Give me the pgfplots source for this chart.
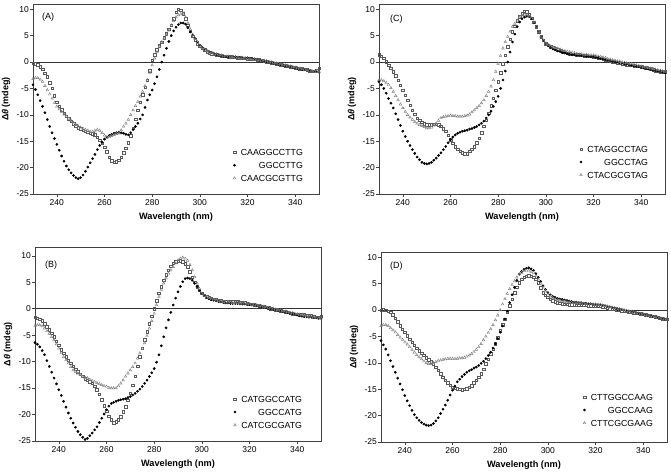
\documentclass[border=0pt]{standalone}
\usepackage{fontspec}
\setmainfont{Liberation Sans}
\usepackage{pgfplots}
\usepackage{pgfplotstable}
\pgfplotsset{compat=1.18}

\pgfplotstableread{
x sq ci tr
230 -0.2 -4.3 -3.2
231 -0.3 -5.2 -3.0
232 -0.5 -6.2 -3.0
233 -0.9 -7.3 -3.3
234 -1.4 -8.4 -3.7
235 -2.1 -9.6 -4.5
236 -2.8 -10.9 -5.3
237 -3.9 -12.2 -6.1
238 -5.0 -13.4 -6.9
239 -6.4 -14.5 -7.7
240 -7.6 -15.6 -8.4
241 -8.4 -16.7 -8.9
242 -9.0 -17.8 -9.4
243 -9.7 -18.8 -9.9
244 -10.3 -19.7 -10.3
245 -10.7 -20.4 -10.7
246 -11.2 -21.0 -11.1
247 -11.7 -21.5 -11.5
248 -12.1 -21.9 -11.9
249 -12.4 -22.1 -12.2
250 -12.6 -21.9 -12.4
251 -12.9 -21.4 -12.6
252 -13.1 -20.7 -12.8
253 -13.3 -19.9 -13.0
254 -13.5 -19.1 -13.2
255 -13.6 -18.3 -13.2
256 -13.8 -17.5 -13.0
257 -14.2 -16.6 -12.8
258 -14.8 -15.8 -13.0
259 -15.4 -15.2 -13.4
260 -16.1 -14.6 -13.9
261 -17.0 -14.2 -14.3
262 -18.0 -13.9 -14.2
263 -18.7 -13.7 -14.0
264 -19.0 -13.5 -13.8
265 -18.9 -13.4 -13.6
266 -18.6 -13.3 -13.5
267 -18.0 -13.4 -12.9
268 -17.2 -13.5 -12.2
269 -16.3 -13.7 -11.6
270 -15.3 -13.8 -10.9
271 -14.0 -13.4 -10.0
272 -12.5 -12.8 -9.1
273 -10.8 -12.2 -8.3
274 -9.1 -11.6 -7.5
275 -7.6 -10.8 -6.5
276 -6.2 -10.0 -5.6
277 -4.8 -8.6 -4.5
278 -3.4 -7.2 -3.4
279 -1.6 -6.2 -2.0
280 0.3 -5.3 -0.6
281 1.4 -4.1 0.7
282 2.3 -2.8 1.9
283 3.1 -1.4 2.9
284 3.8 0.0 3.8
285 4.6 1.3 4.5
286 5.4 2.6 5.1
287 6.2 3.9 6.0
288 7.0 5.0 7.0
289 8.2 5.9 7.8
290 9.4 6.6 8.5
291 10.0 7.1 8.9
292 9.8 7.4 9.1
293 9.2 7.4 9.1
294 8.2 7.2 8.5
295 7.0 6.5 7.4
296 5.8 5.7 6.2
297 4.9 5.1 5.2
298 4.2 4.5 4.4
299 3.5 3.8 3.7
300 3.0 3.2 3.1
301 2.6 2.8 2.7
302 2.3 2.4 2.4
303 2.0 2.1 2.1
304 1.8 1.9 1.9
305 1.6 1.8 1.7
306 1.5 1.6 1.6
307 1.4 1.4 1.5
308 1.3 1.3 1.4
309 1.2 1.2 1.3
310 1.1 1.1 1.2
311 1.1 1.0 1.1
312 1.0 1.0 1.1
313 1.0 1.0 1.0
314 0.9 1.0 1.0
315 0.9 1.0 0.9
316 0.8 0.9 0.9
317 0.8 0.9 0.8
318 0.7 0.8 0.8
319 0.7 0.8 0.7
320 0.6 0.8 0.7
321 0.6 0.7 0.6
322 0.5 0.7 0.6
323 0.5 0.6 0.5
324 0.4 0.5 0.5
325 0.4 0.4 0.4
326 0.3 0.3 0.3
327 0.2 0.2 0.3
328 0.1 0.1 0.2
329 0.0 0.0 0.1
330 -0.1 -0.1 0.0
331 -0.2 -0.2 -0.1
332 -0.3 -0.3 -0.2
333 -0.4 -0.4 -0.3
334 -0.5 -0.5 -0.4
335 -0.6 -0.6 -0.5
336 -0.7 -0.7 -0.6
337 -0.8 -0.8 -0.7
338 -0.9 -0.9 -0.8
339 -1.0 -1.0 -0.9
340 -1.1 -1.1 -1.0
341 -1.2 -1.2 -1.1
342 -1.3 -1.3 -1.2
343 -1.3 -1.4 -1.3
344 -1.4 -1.4 -1.4
345 -1.5 -1.5 -1.5
346 -1.6 -1.6 -1.6
347 -1.7 -1.7 -1.7
348 -1.7 -1.8 -1.8
349 -1.6 -1.8 -1.8
350 -1.2 -1.9 -1.9
}\dataA

\pgfplotstableread{
x sq ci tr
230 -1.6 -6.4 -3.2
231 -1.8 -6.7 -3.1
232 -2.0 -7.2 -3.1
233 -2.3 -7.9 -3.3
234 -2.8 -8.7 -3.7
235 -3.4 -9.8 -4.2
236 -4.0 -10.9 -4.7
237 -4.6 -12.0 -5.3
238 -5.3 -13.1 -5.9
239 -6.1 -14.2 -6.7
240 -6.9 -15.3 -7.5
241 -7.7 -16.4 -8.3
242 -8.4 -17.5 -9.1
243 -9.1 -18.6 -9.7
244 -9.7 -19.7 -10.3
245 -10.3 -20.7 -11.0
246 -10.9 -21.6 -11.6
247 -11.4 -22.4 -11.9
248 -11.9 -23.2 -12.2
249 -12.4 -23.8 -12.5
250 -12.8 -24.3 -12.8
251 -13.2 -24.7 -13.0
252 -13.5 -24.5 -13.1
253 -13.8 -24.0 -13.4
254 -14.1 -23.5 -13.6
255 -14.6 -22.9 -13.8
256 -15.3 -22.3 -14.0
257 -16.2 -21.5 -14.2
258 -17.2 -20.7 -14.4
259 -18.3 -19.9 -14.6
260 -19.4 -19.1 -14.7
261 -20.3 -18.4 -14.9
262 -21.0 -17.9 -15.0
263 -21.5 -17.7 -15.0
264 -21.4 -17.5 -15.0
265 -21.0 -17.3 -14.6
266 -20.4 -17.2 -14.1
267 -19.5 -17.1 -13.5
268 -18.5 -17.0 -12.8
269 -17.3 -16.8 -12.2
270 -16.0 -16.6 -11.6
271 -14.5 -16.3 -11.0
272 -12.8 -16.0 -10.3
273 -10.9 -15.6 -9.4
274 -9.1 -15.2 -8.4
275 -7.5 -14.7 -7.5
276 -5.9 -14.1 -6.5
277 -4.3 -13.5 -5.1
278 -2.8 -12.8 -3.7
279 -1.4 -12.1 -2.3
280 0.0 -11.3 -0.9
281 1.5 -10.1 0.7
282 2.9 -8.7 2.3
283 4.2 -7.0 3.6
284 5.4 -5.3 4.8
285 6.4 -3.6 5.8
286 7.3 -2.1 6.7
287 8.0 -0.7 7.3
288 8.6 0.7 7.9
289 8.9 2.0 8.6
290 9.0 3.2 9.2
291 9.1 4.2 9.5
292 8.9 5.1 9.7
293 8.5 5.7 9.5
294 7.9 5.8 9.1
295 7.0 5.7 8.3
296 6.0 5.4 7.3
297 5.0 4.8 6.0
298 4.2 4.2 4.8
299 3.5 3.5 3.8
300 2.9 2.9 2.9
301 2.6 2.5 2.5
302 2.3 2.1 2.2
303 2.1 1.9 2.0
304 1.9 1.7 1.8
305 1.8 1.6 1.7
306 1.7 1.5 1.6
307 1.6 1.4 1.5
308 1.5 1.3 1.4
309 1.4 1.2 1.3
310 1.3 1.1 1.2
311 1.3 1.1 1.2
312 1.3 1.0 1.2
313 1.3 1.0 1.1
314 1.3 1.0 1.1
315 1.3 1.0 1.1
316 1.2 0.9 1.0
317 1.2 0.9 1.0
318 1.1 0.9 1.0
319 1.0 0.8 0.9
320 0.9 0.8 0.9
321 0.9 0.7 0.8
322 0.8 0.7 0.8
323 0.7 0.6 0.7
324 0.6 0.5 0.6
325 0.5 0.4 0.5
326 0.4 0.3 0.4
327 0.3 0.2 0.3
328 0.2 0.1 0.2
329 0.0 0.0 0.1
330 -0.1 -0.1 0.0
331 -0.2 -0.2 -0.1
332 -0.3 -0.3 -0.2
333 -0.4 -0.4 -0.3
334 -0.5 -0.5 -0.4
335 -0.6 -0.6 -0.5
336 -0.7 -0.7 -0.6
337 -0.8 -0.8 -0.7
338 -0.9 -0.9 -0.8
339 -1.0 -1.0 -0.9
340 -1.0 -1.2 -1.0
341 -1.1 -1.3 -1.1
342 -1.1 -1.4 -1.2
343 -1.1 -1.5 -1.3
344 -1.2 -1.5 -1.4
345 -1.2 -1.6 -1.5
346 -1.3 -1.6 -1.6
347 -1.5 -1.7 -1.7
348 -1.6 -1.7 -1.7
349 -1.6 -1.8 -1.8
350 -1.4 -1.8 -1.8
}\dataB

\pgfplotstableread{
x sq ci tr
230 1.4 -3.7 -3.4
231 1.1 -4.3 -3.4
232 0.7 -5.0 -3.6
233 0.1 -5.9 -3.9
234 -0.6 -6.9 -4.3
235 -1.2 -7.8 -4.9
236 -1.8 -8.7 -5.6
237 -2.6 -9.8 -6.4
238 -3.4 -10.9 -7.2
239 -4.4 -12.0 -8.0
240 -5.3 -13.1 -8.7
241 -6.3 -14.1 -9.4
242 -7.2 -15.0 -10.0
243 -8.2 -15.8 -10.5
244 -9.1 -16.6 -10.9
245 -9.9 -17.3 -11.3
246 -10.6 -18.0 -11.6
247 -11.0 -18.5 -11.9
248 -11.4 -19.0 -12.1
249 -11.7 -19.2 -12.3
250 -11.9 -19.3 -12.5
251 -11.9 -19.2 -12.5
252 -11.9 -19.0 -12.4
253 -11.8 -18.6 -12.0
254 -11.8 -18.2 -11.6
255 -11.9 -17.7 -11.1
256 -12.2 -17.2 -10.6
257 -12.6 -16.6 -10.4
258 -13.1 -16.0 -10.3
259 -13.9 -15.3 -10.2
260 -14.7 -14.7 -10.1
261 -15.4 -14.2 -10.2
262 -16.0 -13.8 -10.2
263 -16.5 -13.5 -10.3
264 -16.9 -13.3 -10.3
265 -17.2 -13.1 -10.3
266 -17.4 -13.0 -10.2
267 -17.4 -12.9 -10.1
268 -16.9 -12.7 -9.9
269 -16.5 -12.6 -9.5
270 -16.0 -12.4 -9.1
271 -15.3 -12.2 -8.7
272 -14.4 -11.9 -8.3
273 -13.4 -11.6 -7.8
274 -12.2 -11.2 -7.2
275 -11.0 -10.6 -6.4
276 -9.7 -10.0 -5.6
277 -8.3 -9.3 -4.6
278 -6.9 -8.4 -3.4
279 -5.3 -7.5 -1.8
280 -3.7 -6.5 -0.3
281 -2.0 -5.0 1.2
282 -0.3 -3.4 2.6
283 1.3 -1.7 3.8
284 2.9 0.0 4.8
285 4.3 1.9 5.8
286 5.7 3.8 6.7
287 6.8 5.3 7.3
288 7.8 6.7 7.9
289 8.6 7.6 8.5
290 9.2 8.2 8.9
291 9.6 8.5 9.0
292 9.5 8.7 8.9
293 9.0 8.6 8.7
294 8.3 8.2 8.3
295 7.5 7.5 7.6
296 6.7 6.7 6.7
297 5.7 5.7 5.7
298 4.8 4.8 4.8
299 4.1 4.1 4.1
300 3.5 3.5 3.6
301 3.2 3.1 3.3
302 2.9 2.8 3.0
303 2.7 2.5 2.8
304 2.5 2.3 2.7
305 2.3 2.1 2.6
306 2.2 2.0 2.4
307 2.0 1.8 2.2
308 1.9 1.7 2.1
309 1.7 1.6 2.0
310 1.6 1.5 1.9
311 1.5 1.4 1.8
312 1.5 1.4 1.7
313 1.4 1.3 1.6
314 1.4 1.3 1.5
315 1.3 1.2 1.5
316 1.2 1.2 1.4
317 1.2 1.1 1.4
318 1.1 1.1 1.3
319 1.1 1.0 1.3
320 1.0 1.0 1.3
321 0.9 0.9 1.2
322 0.8 0.8 1.1
323 0.7 0.7 1.0
324 0.5 0.6 0.9
325 0.4 0.5 0.8
326 0.3 0.4 0.6
327 0.2 0.3 0.5
328 0.1 0.2 0.4
329 0.0 0.1 0.3
330 -0.1 0.0 0.2
331 -0.2 -0.1 0.1
332 -0.3 -0.2 0.0
333 -0.4 -0.3 -0.1
334 -0.5 -0.4 -0.2
335 -0.6 -0.5 -0.3
336 -0.6 -0.6 -0.4
337 -0.7 -0.7 -0.5
338 -0.8 -0.8 -0.6
339 -0.8 -0.9 -0.7
340 -0.9 -1.0 -0.8
341 -1.0 -1.1 -0.9
342 -1.1 -1.2 -1.0
343 -1.2 -1.3 -1.1
344 -1.3 -1.4 -1.2
345 -1.5 -1.5 -1.3
346 -1.6 -1.6 -1.4
347 -1.7 -1.7 -1.5
348 -1.8 -1.8 -1.6
349 -1.8 -1.9 -1.7
350 -1.8 -2.0 -1.8
}\dataC

\pgfplotstableread{
x sq ci tr
230 0.0 -5.8 -3.0
231 0.1 -6.6 -2.8
232 0.0 -7.4 -2.8
233 -0.2 -8.5 -3.0
234 -0.4 -9.6 -3.4
235 -0.9 -10.7 -3.8
236 -1.5 -11.8 -4.2
237 -2.2 -12.9 -4.7
238 -3.0 -14.0 -5.2
239 -3.6 -15.1 -5.6
240 -4.2 -16.2 -6.1
241 -4.9 -17.2 -6.5
242 -5.5 -18.1 -7.0
243 -6.1 -19.0 -7.5
244 -6.7 -19.8 -8.0
245 -7.2 -20.4 -8.5
246 -7.7 -20.9 -8.9
247 -8.2 -21.3 -9.3
248 -8.6 -21.6 -9.7
249 -9.0 -21.8 -10.0
250 -9.4 -21.9 -10.2
251 -9.8 -21.8 -10.2
252 -10.2 -21.5 -10.0
253 -10.8 -21.0 -9.8
254 -11.4 -20.4 -9.6
255 -12.1 -19.6 -9.5
256 -12.7 -18.8 -9.4
257 -13.3 -18.0 -9.3
258 -13.8 -17.1 -9.2
259 -14.2 -16.1 -9.2
260 -14.6 -15.2 -9.2
261 -14.8 -14.4 -9.2
262 -14.9 -13.6 -9.2
263 -15.0 -13.1 -9.1
264 -15.1 -12.6 -9.1
265 -15.0 -12.2 -9.0
266 -14.9 -11.8 -8.8
267 -14.6 -11.5 -8.6
268 -14.3 -11.3 -8.3
269 -13.8 -11.0 -7.9
270 -13.3 -10.8 -7.5
271 -12.7 -10.5 -7.0
272 -12.1 -10.1 -6.4
273 -11.2 -9.7 -5.7
274 -10.2 -9.2 -5.0
275 -9.3 -8.6 -4.3
276 -8.3 -8.0 -3.6
277 -7.4 -7.2 -2.8
278 -6.4 -6.4 -1.9
279 -5.2 -5.4 -1.0
280 -3.9 -4.2 0.0
281 -2.8 -3.0 1.1
282 -1.7 -1.7 2.1
283 -0.4 -0.2 3.1
284 0.8 1.4 4.0
285 2.1 2.9 4.8
286 3.3 4.3 5.5
287 4.3 5.6 6.2
288 5.2 6.8 6.8
289 5.8 7.3 7.1
290 6.2 7.7 7.4
291 6.4 7.9 7.5
292 6.5 8.0 7.5
293 6.4 7.8 7.3
294 6.2 7.5 7.1
295 5.8 6.9 6.5
296 5.2 6.2 5.8
297 4.2 5.4 5.0
298 3.3 4.6 4.3
299 2.8 3.9 3.6
300 2.4 3.3 3.0
301 2.1 2.9 2.6
302 1.8 2.6 2.3
303 1.6 2.4 2.1
304 1.4 2.2 1.9
305 1.3 2.1 1.8
306 1.2 2.0 1.7
307 1.1 1.9 1.6
308 1.1 1.8 1.5
309 1.0 1.7 1.5
310 1.0 1.6 1.4
311 1.0 1.5 1.4
312 0.9 1.5 1.3
313 0.9 1.4 1.3
314 0.9 1.4 1.3
315 0.9 1.3 1.2
316 0.9 1.3 1.2
317 0.8 1.2 1.2
318 0.8 1.2 1.1
319 0.8 1.1 1.1
320 0.8 1.1 1.1
321 0.7 1.0 1.0
322 0.7 1.0 1.0
323 0.6 0.9 0.9
324 0.5 0.8 0.8
325 0.4 0.7 0.7
326 0.3 0.6 0.6
327 0.3 0.5 0.5
328 0.2 0.4 0.4
329 0.1 0.3 0.3
330 0.0 0.2 0.2
331 -0.1 0.1 0.1
332 -0.2 0.0 0.0
333 -0.2 -0.1 -0.1
334 -0.3 -0.2 -0.2
335 -0.4 -0.3 -0.3
336 -0.5 -0.4 -0.4
337 -0.6 -0.5 -0.5
338 -0.6 -0.6 -0.6
339 -0.7 -0.7 -0.7
340 -0.8 -0.8 -0.8
341 -0.9 -0.9 -0.9
342 -1.0 -1.0 -1.0
343 -1.1 -1.1 -1.1
344 -1.2 -1.2 -1.2
345 -1.3 -1.3 -1.3
346 -1.4 -1.4 -1.4
347 -1.5 -1.5 -1.5
348 -1.6 -1.6 -1.6
349 -1.7 -1.7 -1.7
350 -1.7 -1.7 -1.7
}\dataD

\pgfplotsset{
  cd/.style={
    scale only axis, width=286pt,
    xmin=230, xmax=350, ymin=-25,
    xtick={240,260,...,340}, ytick={-25,-20,...,10},
    tick align=outside, tick pos=left, major tick length=3pt,
    axis line style={black!75, line width=0.6pt},
    tick style={black!75, line width=0.6pt},
    tick label style={font=\fontsize{8.5}{10}\selectfont, text=black},
    yticklabel style={inner sep=1pt},
    xticklabel style={inner sep=2pt},
    /pgf/number format/assume math mode=true,
    xlabel={Wavelength (nm)},
    ylabel={Δ\textit{θ} (mdeg)},
    every axis x label/.style={at={(axis description cs:0.5,0)}, yshift=-23pt, anchor=center,
      font=\fontsize{9.2}{11}\selectfont\bfseries},
    every axis y label/.style={at={(axis description cs:-0.094,0.5)}, rotate=90, anchor=center,
      font=\fontsize{9}{11}\selectfont\bfseries},
    legend cell align=right,
    legend style={draw=none, fill=none, inner sep=0pt, outer sep=0pt,
      font=\fontsize{8.8}{10}\selectfont,
      nodes={inner sep=1.5pt, text height=6.5pt, text depth=0pt},
      /tikz/every odd column/.append style={column sep=3.5pt},
      row sep=3.5pt, anchor=south east},
    legend image code/.code={\draw[mark repeat=2,mark phase=2] plot coordinates {(0pt,0pt)(3pt,0pt)(6pt,0pt)};},
  },
  sq/.style={only marks, mark=square, mark size=1.25pt, color=black!65, mark options={line width=0.45pt, fill=white}},
  ci/.style={only marks, mark=*, mark size=1.15pt, color=black},
  tr/.style={only marks, mark=triangle, mark size=1.5pt, color=black!50, mark options={line width=0.45pt, fill=white}},
  zl/.style={black!80, line width=0.6pt, forget plot, mark=none},
}

\begin{document}
\begin{tikzpicture}
\path[use as bounding box] (0pt,0pt) rectangle (671pt,-473pt);

% (A)
\begin{axis}[cd, at={(33pt,-194pt)}, anchor=south west, height=190pt, ymax=11,
  legend style={at={(axis description cs:0.949,0.058)}}]
\addplot[zl] coordinates {(230,0) (350,0)};
\addplot[sq] table[x=x,y=sq] {\dataA};
\addplot[ci] table[x=x,y=ci] {\dataA};
\addplot[tr] table[x=x,y=tr] {\dataA};
\legend{CAAGGCCTTG, GGCCTTG, CAACGCGTTG}
\node[anchor=west, inner sep=0pt, font=\fontsize{9}{11}\selectfont] at (axis description cs:0.031,0.932) {(A)};
\end{axis}

% (C)
\begin{axis}[cd, at={(379pt,-194pt)}, anchor=south west, height=190pt, ymax=11,
  legend style={at={(axis description cs:0.946,0.075)}}]
\addplot[zl] coordinates {(230,0) (350,0)};
\addplot[sq] table[x=x,y=sq] {\dataC};
\addplot[ci] table[x=x,y=ci] {\dataC};
\addplot[tr] table[x=x,y=tr] {\dataC};
\legend{CTAGGCCTAG, GGCCTAG, CTACGCGTAG}
\node[anchor=west, inner sep=0pt, font=\fontsize{9}{11}\selectfont] at (axis description cs:0.038,0.921) {(C)};
\end{axis}

% (B)
\begin{axis}[cd, at={(35pt,-441pt)}, anchor=south west, height=193.6pt, ymax=11.6,
  legend style={at={(axis description cs:0.939,0.058)}}]
\addplot[zl] coordinates {(230,0) (350,0)};
\addplot[sq] table[x=x,y=sq] {\dataB};
\addplot[ci] table[x=x,y=ci] {\dataB};
\addplot[tr] table[x=x,y=tr] {\dataB};
\legend{CATGGCCATG, GGCCATG, CATCGCGATG}
\node[anchor=west, inner sep=0pt, font=\fontsize{9}{11}\selectfont] at (axis description cs:0.035,0.907) {(B)};
\end{axis}

% (D)
\begin{axis}[cd, at={(381pt,-442pt)}, anchor=south west, height=190pt, ymax=11,
  legend style={at={(axis description cs:0.956,0.075)}}]
\addplot[zl] coordinates {(230,0) (350,0)};
\addplot[sq] table[x=x,y=sq] {\dataD};
\addplot[ci] table[x=x,y=ci] {\dataD};
\addplot[tr] table[x=x,y=tr] {\dataD};
\legend{CTTGGCCAAG, GGCCAAG, CTTCGCGAAG}
\node[anchor=west, inner sep=0pt, font=\fontsize{9}{11}\selectfont] at (axis description cs:0.031,0.926) {(D)};
\end{axis}
\end{tikzpicture}
\end{document}
